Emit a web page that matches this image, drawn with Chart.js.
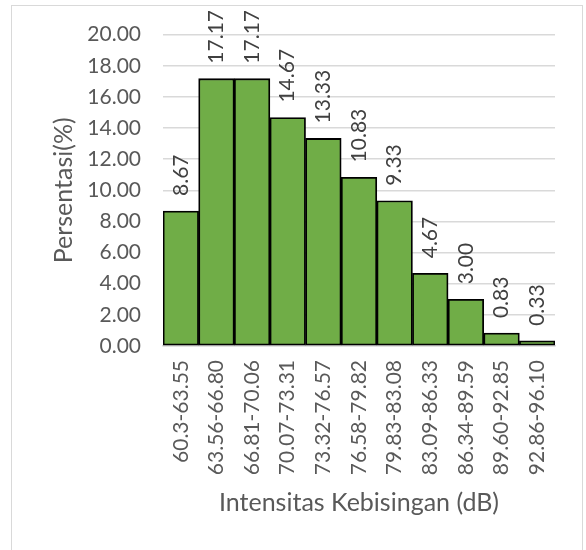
<!DOCTYPE html>
<html>
<head>
<meta charset="utf-8">
<script src="https://cdn.jsdelivr.net/npm/chart.js@4/dist/chart.umd.min.js"></script>
<style>
  html, body { margin: 0; padding: 0; background: #fff; }
  #wrap { position: relative; width: 586px; height: 550px; overflow: hidden; }
  #frame { position: absolute; left: 11px; top: 5px; width: 572px; height: 560px;
           border: 1.5px solid #d9d9d9; box-sizing: border-box; pointer-events: none; }
  canvas { position: absolute; left: 0; top: 0; }
</style>
</head>
<body>
<div id="wrap">
  <div id="frame"></div>
  <canvas id="c" width="586" height="550"></canvas>
</div>
<script>
// Noise intensity classes (dB) and share of measurements in each class (%)
const categories = ['60.3-63.55', '63.56-66.80', '66.81-70.06', '70.07-73.31', '73.32-76.57',
  '76.58-79.82', '79.83-83.08', '83.09-86.33', '86.34-89.59', '89.60-92.85', '92.86-96.10'];
const percentages = [8.67, 17.17, 17.17, 14.67, 13.33, 10.83, 9.33, 4.67, 3.00, 0.83, 0.33];
const yTicks = [0, 2, 4, 6, 8, 10, 12, 14, 16, 18, 20];

const FONT = 'Lato, "Open Sans", sans-serif';
const TICK_SIZE = 21;
const TITLE_SIZE = 25;

// Value labels written vertically just above each bar
const valueLabels = {
  id: 'valueLabels',
  afterDatasetsDraw(chart) {
    const ctx = chart.ctx;
    const meta = chart.getDatasetMeta(0);
    ctx.save();
    ctx.fillStyle = '#404040';
    ctx.font = TICK_SIZE + 'px ' + FONT;
    ctx.textAlign = 'left';
    ctx.textBaseline = 'middle';
    meta.data.forEach((bar, i) => {
      ctx.save();
      ctx.translate(bar.x, bar.y - 15);
      ctx.rotate(-Math.PI / 2);
      ctx.fillText(percentages[i].toFixed(2), 0, 0);
      ctx.restore();
    });
    ctx.restore();
  }
};

new Chart(document.getElementById('c'), {
  type: 'bar',
  data: {
    labels: categories,
    datasets: [{
      data: percentages,
      backgroundColor: '#70ad47',
      borderColor: '#000000',
      borderWidth: 1.8,
      borderSkipped: false,
      categoryPercentage: 1.0,
      barPercentage: 1.0
    }]
  },
  options: {
    responsive: false,
    animation: false,
    devicePixelRatio: 1,
    layout: { padding: { left: 0, right: 31, top: 34, bottom: 0 } },
    plugins: { legend: { display: false }, tooltip: { enabled: false } },
    scales: {
      x: {
        grid: { display: false, drawTicks: false },
        border: { display: true, color: '#d9d9d9', width: 1.5 },
        ticks: {
          color: '#595959', font: { family: FONT, size: TICK_SIZE },
          autoSkip: false, minRotation: 90, maxRotation: 90, padding: 14
        },
        title: {
          display: true, text: 'Intensitas Kebisingan (dB)', color: '#595959',
          font: { family: FONT, size: TITLE_SIZE }, padding: { top: 0, bottom: 32 }
        },
        afterFit(scale) { scale.height = 204; }
      },
      y: {
        min: 0, max: 20,
        afterBuildTicks(scale) { scale.ticks = yTicks.map(v => ({ value: v })); },
        grid: { color: '#d9d9d9', lineWidth: 1.5, drawTicks: false },
        border: { display: false },
        ticks: {
          color: '#595959', font: { family: FONT, size: TICK_SIZE }, padding: 22,
          callback: v => Number(v).toFixed(2)
        },
        title: {
          display: true, text: 'Persentasi(%)', color: '#595959',
          font: { family: FONT, size: TITLE_SIZE }, padding: { top: 49, bottom: 0 }
        },
        afterFit(scale) { scale.width = 163; }
      }
    }
  },
  plugins: [valueLabels]
});
</script>
</body>
</html>
